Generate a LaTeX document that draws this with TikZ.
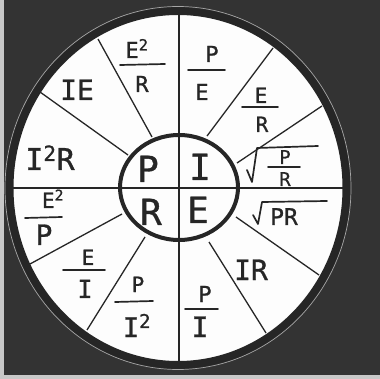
\documentclass[tikz,border=0pt]{standalone}
\usepackage{fontspec}
\setmonofont[FakeBold=1]{DejaVu Sans Mono}
\definecolor{bgc}{HTML}{333333}
\definecolor{edgec}{HTML}{C8C8C8}
\definecolor{inkc}{HTML}{262626}
\definecolor{paper}{HTML}{FDFDFD}
\newcommand{\sqr}{\textsuperscript{2}}
\begin{document}
\begin{tikzpicture}[x=1pt,y=-1pt,
  lbl/.style={font=\ttfamily\fontsize{#1}{#1}\selectfont, text=inkc, inner sep=0pt, anchor=base},
  fbar/.style={draw=inkc, line width=1.7pt, line cap=round},
  rootsign/.style={draw=inkc, line width=1.7pt, line cap=round, line join=round},
  spoke/.style={draw=inkc, line width=1.3pt},
  cross/.style={draw=inkc, line width=2.8pt},
  ring/.style={draw=inkc, line width=4pt},
  rim/.style={draw=inkc, line width=8pt}]
\fill[bgc] (0,0) rectangle (380,379);
\fill[edgec] (0,0) rectangle (4,379);
\fill[edgec] (0,375) rectangle (380,379);
\useasboundingbox (0,0) rectangle (380,379);

\coordinate (C) at (178,188);
\coordinate (Ci) at (179,187.5);
\fill[paper] (C) ellipse [x radius=168.5, y radius=177];

% spokes
\coordinate (s1o) at (98,39);   \coordinate (s1i) at (152,137);
\coordinate (s2o) at (40,92);   \coordinate (s2i) at (128,155);
\coordinate (s3o) at (273,48);  \coordinate (s3i) at (207,136);
\coordinate (s4o) at (322,106); \coordinate (s4i) at (237,163);
\coordinate (s5o) at (319,275); \coordinate (s5i) at (236,217);
\coordinate (s6o) at (266,333); \coordinate (s6i) at (209,242);
\coordinate (s7o) at (30,264);  \coordinate (s7i) at (122,214);
\coordinate (s8o) at (87,330);  \coordinate (s8i) at (145,237);
\foreach \k in {1,...,8} { \draw[spoke] (s\k o) -- (s\k i); }

% cross
\coordinate (vt) at (179,11);  \coordinate (vb) at (179,365);
\coordinate (hl) at (9,188);   \coordinate (hr) at (346,188);
\draw[cross] (vt) -- (vb);
\draw[cross] (hl) -- (hr);

% circles
\draw[ring] (Ci) ellipse [x radius=59, y radius=52.5];
\draw[rim] (C) ellipse [x radius=168.5, y radius=177];
\draw[draw=gray!70, line width=0.7pt] (C) ellipse [x radius=173, y radius=181.5];

% inner letters
\node[lbl=36] (P) at (148,182) {P};
\node[lbl=36] (I) at (200,180) {I};
\node[lbl=36] (R) at (151,225) {R};
\node[lbl=36] (E) at (198,223) {E};

% top-left
\node[lbl=22] (e2rn) at (137,58) {E\sqr};
\coordinate (e2ra) at (120,65); \coordinate (e2rb) at (165,64);
\draw[fbar] (e2ra) -- (e2rb);
\node[lbl=22] (e2rd) at (142,92) {R};
\node[lbl=28] (ie) at (77,100) {IE};
\node[lbl=30] (i2r) at (50,170) {I\sqr R};

% top-right
\node[lbl=22] (pen) at (212,62) {P};
\coordinate (pea) at (188,70); \coordinate (peb) at (225,70);
\draw[fbar] (pea) -- (peb);
\node[lbl=22] (ped) at (202,100) {E};
\node[lbl=21] (ern) at (261,103) {E};
\coordinate (era) at (242,107); \coordinate (erb) at (278,107);
\draw[fbar] (era) -- (erb);
\node[lbl=21] (erd) at (262,132) {R};
\coordinate (q1a) at (247,170); \coordinate (q1b) at (252,182);
\coordinate (q1c) at (257,148); \coordinate (q1d) at (318,146);
\draw[rootsign] (q1a) -- (q1b) -- (q1c) -- (q1d);
\node[lbl=19] (prn) at (285,164) {P};
\coordinate (pra) at (268,167); \coordinate (prb) at (300,167);
\draw[fbar] (pra) -- (prb);
\node[lbl=19] (prd) at (285,186) {R};

% bottom-right
\coordinate (q2a) at (253,215); \coordinate (q2b) at (258,224);
\coordinate (q2c) at (262,202); \coordinate (q2d) at (327,201);
\draw[rootsign] (q2a) -- (q2b) -- (q2c) -- (q2d);
\node[lbl=23] (pr) at (284,225) {PR};
\node[lbl=28] (ir) at (251,280) {IR};
\node[lbl=22] (pin) at (205,302) {P};
\coordinate (pia) at (185,309); \coordinate (pib) at (218,309);
\draw[fbar] (pia) -- (pib);
\node[lbl=28] (pid) at (200,337) {I};

% bottom-left
\node[lbl=21] (e2pn) at (53,208) {E\sqr};
\coordinate (e2pa) at (25,218); \coordinate (e2pb) at (62,217);
\draw[fbar] (e2pa) -- (e2pb);
\node[lbl=28] (e2pd) at (44,245) {P};
\node[lbl=21] (ein) at (88,265) {E};
\coordinate (eia) at (63,270); \coordinate (eib) at (105,270);
\draw[fbar] (eia) -- (eib);
\node[lbl=25] (eid) at (85,298) {I};
\node[lbl=21] (pi2n) at (138,292) {P};
\coordinate (pi2a) at (115,302); \coordinate (pi2b) at (153,301);
\draw[fbar] (pi2a) -- (pi2b);
\node[lbl=27] (pi2d) at (137,337) {I\sqr};
\end{tikzpicture}
\end{document}
